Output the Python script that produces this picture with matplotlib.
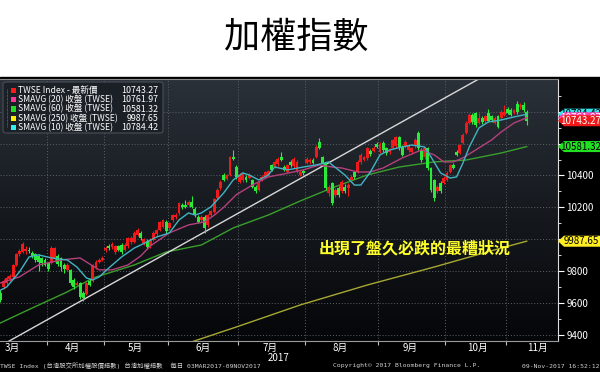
import numpy as np
import matplotlib.pyplot as plt
import matplotlib.transforms as mtransforms
from matplotlib.colors import LinearSegmentedColormap
from matplotlib.patches import Polygon, FancyBboxPatch, Rectangle

plt.rcParams['font.family'] = ['Noto Sans CJK TC', 'DejaVu Sans']

# trading day index: 0 = 03MAR2017, chart is cropped so first visible candle is day 6
first_day = 6
opens = [9663, 9700, 9726, 9750, 9764, 9839, 9905, 9920, 9925, 9935,
         9915, 9905, 9895, 9880, 9870, 9850, 9851, 9875, 9895, 9880,
         9839, 9808, 9808, 9745, 9715, 9726, 9663, 9657, 9739, 9739,
         9826, 9860, 9872, 9930, 9958, 9950, 9920, 9955, 9964, 9935,
         9955, 9980, 9980, 10027, 10040, 9977, 9990, 9955, 9996, 10030,
         10058, 10077, 10110, 10070, 10121, 10140, 10165, 10215, 10212, 10215,
         10235, 10190, 10140, 10121, 10140, 10090, 10150, 10171, 10260, 10320,
         10403, 10380, 10403, 10516, 10453, 10360, 10370, 10391, 10385, 10372,
         10330, 10309, 10372, 10391, 10400, 10466,
         10453, 10470, 10516, 10453, 10422, 10485, 10460, 10425, 10403, 10430,
         10478, 10485, 10500, 10516, 10610, 10516, 10478, 10290, 10353, 10278,
         10322, 10300, 10330, 10322, 10372, 10422, 10422, 10485, 10500, 10510,
         10555, 10555, 10600, 10547, 10604, 10572, 10545, 10572, 10585, 10641, 10578,
         10585, 10560, 10545, 10585, 10666, 10560, 10516, 10572, 10447, 10372,
         10300, 10353, 10353, 10372, 10422, 10466, 10547, 10541, 10604, 10666,
         10729, 10779, 10792, 10729, 10760, 10740, 10790, 10770, 10729, 10773,
         10760, 10780, 10818, 10811, 10792, 10850, 10830, 10842, 10798]
closes = [9619, 9740, 9757, 9770, 9839, 9908, 9925, 9970, 9940, 9925,
          9895, 9870, 9855, 9850, 9840, 9815, 9945, 9945, 9845, 9826,
          9815, 9839, 9726, 9701, 9726, 9640, 9632, 9726, 9714, 9839,
          9857, 9870, 9883, 9948, 9945, 9970, 9955, 9935, 9920, 9964,
          10008, 10010, 10040, 10058, 10008, 10000, 9950, 9996, 10040, 10058,
          10109, 10121, 10050, 10100, 10152, 10155, 10228, 10200, 10203, 10235,
          10203, 10150, 10109, 10140, 10070, 10152, 10175, 10252, 10310, 10360,
          10372, 10400, 10516, 10505, 10391, 10403, 10410, 10372, 10403, 10330,
          10300, 10353, 10391, 10422, 10425, 10435,
          10485, 10505, 10497, 10435, 10466, 10466, 10505, 10485, 10422, 10415,
          10505, 10500, 10480, 10579, 10572, 10478, 10322, 10328, 10228, 10309,
          10278, 10360, 10300, 10340, 10391, 10391, 10485, 10529, 10516, 10572,
          10535, 10575, 10580, 10600, 10560, 10541, 10560, 10623, 10641, 10572, 10529,
          10610, 10591, 10572, 10623, 10572, 10497, 10572, 10447, 10309, 10259,
          10328, 10300, 10385, 10416, 10466, 10450, 10529, 10591, 10654, 10729,
          10779, 10735, 10717, 10760, 10735, 10770, 10742, 10745, 10760, 10704,
          10798, 10795, 10792, 10779, 10811, 10795, 10842, 10811, 10743]
highs = [9680, 9750, 9770, 9780, 9845, 9915, 9940, 9985, 9955, 9950,
         9925, 9915, 9905, 9890, 9880, 9860, 9955, 9950, 9905, 9890,
         9850, 9850, 9815, 9760, 9740, 9735, 9675, 9735, 9750, 9845,
         9870, 9885, 9895, 9960, 9970, 9980, 9965, 9965, 9975, 9975,
         10015, 10020, 10050, 10070, 10050, 10010, 10000, 10005, 10050, 10065,
         10115, 10130, 10120, 10110, 10160, 10165, 10235, 10225, 10245, 10245,
         10270, 10200, 10150, 10150, 10150, 10160, 10185, 10260, 10320, 10370,
         10415, 10410, 10525, 10560, 10465, 10415, 10420, 10400, 10415, 10380,
         10340, 10365, 10400, 10430, 10435, 10475,
         10495, 10515, 10545, 10465, 10475, 10495, 10515, 10495, 10435, 10440,
         10515, 10510, 10510, 10590, 10635, 10525, 10485, 10340, 10360, 10320,
         10335, 10370, 10345, 10350, 10400, 10430, 10495, 10540, 10525, 10580,
         10565, 10585, 10610, 10610, 10615, 10580, 10570, 10630, 10650, 10650, 10590,
         10620, 10600, 10580, 10635, 10680, 10570, 10580, 10580, 10455, 10380,
         10340, 10365, 10395, 10425, 10475, 10480, 10560, 10600, 10665, 10740,
         10790, 10790, 10800, 10790, 10770, 10780, 10815, 10780, 10770, 10780,
         10810, 10840, 10830, 10825, 10820, 10870, 10855, 10860, 10810]
lows = [9605, 9690, 9715, 9740, 9755, 9830, 9895, 9912, 9910, 9915,
        9885, 9860, 9800, 9835, 9830, 9800, 9845, 9860, 9835, 9800,
        9790, 9800, 9715, 9690, 9705, 9625, 9615, 9650, 9705, 9730,
        9815, 9850, 9862, 9920, 9935, 9940, 9910, 9925, 9910, 9925,
        9945, 9970, 9975, 10020, 9995, 9965, 9940, 9945, 9990, 10020,
        10050, 10070, 10040, 10060, 10110, 10130, 10155, 10190, 10195, 10205,
        10195, 10140, 10100, 10110, 10040, 10080, 10140, 10165, 10250, 10310,
        10365, 10370, 10395, 10495, 10380, 10350, 10360, 10360, 10375, 10320,
        10290, 10300, 10365, 10385, 10395, 10425,
        10445, 10460, 10490, 10425, 10415, 10455, 10450, 10415, 10395, 10405,
        10470, 10475, 10470, 10510, 10565, 10470, 10310, 10270, 10215, 10265,
        10265, 10290, 10290, 10270, 10360, 10380, 10415, 10475, 10490, 10500,
        10525, 10545, 10570, 10540, 10550, 10530, 10535, 10565, 10575, 10560, 10520,
        10575, 10550, 10535, 10575, 10560, 10485, 10505, 10435, 10295, 10240,
        10290, 10290, 10345, 10365, 10415, 10440, 10520, 10535, 10595, 10660,
        10720, 10725, 10705, 10720, 10725, 10730, 10735, 10735, 10720, 10695,
        10750, 10770, 10785, 10770, 10785, 10785, 10820, 10800, 10715]

ma10_x = [6, 8, 12, 15, 18, 22, 27, 30, 33, 35, 37, 40, 44, 48, 50, 55, 59, 62, 65, 67,
          69, 72, 76, 79, 82, 84, 87, 90, 92, 96, 101, 105, 109, 110, 114, 117, 119, 122, 125, 128,
          132, 135, 139, 141, 144, 147, 149, 151, 153, 156, 159, 163, 167, 171]
ma10_y = [9680, 9701, 9795, 9889, 9902, 9883, 9870, 9826, 9757, 9745, 9764, 9820, 9889, 9945, 9964,
          10014, 10040, 10121, 10165, 10152, 10165, 10203, 10290, 10372, 10416, 10403, 10372, 10403,
          10453, 10435, 10453, 10466, 10485, 10466, 10403, 10340, 10340, 10422, 10529, 10560,
          10579, 10591, 10579, 10516, 10416, 10384, 10391, 10478, 10579, 10698, 10736, 10748,
          10767, 10784]
ma20_x = [6, 12, 18, 25, 31, 34, 37, 41, 46, 50, 53, 59, 65, 70, 73, 76, 80, 85, 90, 95,
          101, 106, 110, 113, 118, 122, 126, 132, 138, 142, 145, 148, 151, 155, 160, 163, 167, 171]
ma20_y = [9726, 9764, 9839, 9870, 9883, 9845, 9808, 9808, 9839, 9895, 9958, 10040, 10090, 10109,
          10150, 10200, 10280, 10340, 10391, 10410, 10435, 10466, 10453, 10447, 10422, 10422,
          10447, 10510, 10560, 10529, 10485, 10485, 10510, 10560, 10623, 10673, 10729, 10762]
ma60_x = [6, 16, 27, 35, 48, 58, 69, 79, 90, 100, 110, 121, 131, 142, 152, 163, 171]
ma60_y = [9475, 9569, 9670, 9757, 9839, 9920, 9964, 10071, 10152, 10240, 10322, 10403,
          10453, 10485, 10497, 10541, 10581]
ma250_x = [55, 65, 80, 100, 121, 142, 163, 171]
ma250_y = [9290, 9350, 9450, 9588, 9713, 9826, 9945, 9988]
trend_x = [6, 160]
trend_y = [9331, 11050]

month_names = ['3月', '4月', '5月', '6月', '7月', '8月', '9月', '10月', '11月']
month_label_x = [9.7, 28.5, 48.3, 69.6, 90.6, 112.5, 134.5, 155.5, 174.3]
month_starts = [20.5, 38.5, 58.5, 80.5, 101.5, 124.5, 145.5, 164.5]
y_major = [9400, 9600, 9800, 10000, 10200, 10400, 10600, 10800]
y_labels = ['9400', '9600', '9800', '', '10200', '10400', '', '']
y_minor = [9500, 9700, 9900, 10100, 10300, 10500, 10700, 10900]

legend_labels = ['TWSE Index - 最新價', 'SMAVG (20) 收盤 (TWSE)', 'SMAVG (60) 收盤 (TWSE)',
                 'SMAVG (250) 收盤 (TWSE)', 'SMAVG (10) 收盤 (TWSE)']
legend_values = ['10743.27', '10761.97', '10581.32', '9987.65', '10784.42']
legend_colors = ['#ff1a1a', '#ff3399', '#22dd22', '#ffee00', '#33eeee']

tag_values = [10784.42, 10761.97, 10743.27, 10581.32, 9987.65]
tag_colors = ['#33e6f0', '#ff40b0', '#f01818', '#22e022', '#ffee22']
tag_text_colors = ['black', 'white', 'white', 'black', 'black']

W, H = 600, 372
fig = plt.figure(figsize=(6, 3.72), dpi=100, facecolor='white')


def fx(px):
    return px / W


def fy(py):
    return 1 - py / H


fig.patches.append(Rectangle((0, 0), 1, fy(77), transform=fig.transFigure,
                             color='black', zorder=-5))

ax = fig.add_axes([0, fy(341), fx(558), fy(79) - fy(341)])
ax.set_facecolor('none')
xlim = (5.9, 180.8)
ylim = (9362, 11005)

bg = LinearSegmentedColormap.from_list('bg', ['#2b3139', '#161a1f', '#050608'])
ax.imshow(np.linspace(0, 1, 256).reshape(-1, 1), cmap=bg, aspect='auto',
          extent=[xlim[0], xlim[1], ylim[0], ylim[1]], origin='upper', zorder=0)

for v in y_major:
    ax.axhline(v, color='#5c6168', lw=0.7, ls=(0, (1, 2)), zorder=1)
for m in month_starts:
    ax.axvline(m, color='#5c6168', lw=0.7, ls=(0, (1, 2)), zorder=1)

# moving averages and trend line
ax.plot(ma250_x, ma250_y, color='#a8a832', lw=1.0, zorder=2)
ax.plot(ma60_x, ma60_y, color='#3a9e2c', lw=1.0, zorder=2)
ax.plot(trend_x, trend_y, color='#d8d8d8', lw=1.0, zorder=2)

# candles: red = up, green = down
opens_a = np.array(opens)
closes_a = np.array(closes)
idx = np.arange(first_day, first_day + len(closes))
cols = np.where(closes_a >= opens_a, '#f01a1a', '#2bea3a')
ax.vlines(idx, lows, highs, colors=cols, lw=0.8, zorder=3)
ax.bar(idx, np.abs(closes_a - opens_a), bottom=np.minimum(opens_a, closes_a),
       width=0.9, color=cols, zorder=4)

ax.plot(ma20_x, ma20_y, color='#b4407c', lw=1.0, zorder=5)
ax.plot(ma10_x, ma10_y, color='#41b4c4', lw=1.0, zorder=5)

ax.set_xlim(*xlim)
ax.set_ylim(*ylim)

ax.spines['left'].set_visible(False)
ax.spines['top'].set_color('#8a8a8a')
ax.spines['top'].set_linewidth(0.8)
ax.spines['right'].set_color('#dddddd')
ax.spines['bottom'].set_color('#9a9a9a')

ax.yaxis.tick_right()
ax.set_yticks(y_major)
ax.set_yticklabels(y_labels)
ax.set_yticks(y_minor, minor=True)
ax.tick_params(axis='y', which='major', colors='white', labelsize=7, length=4, pad=2)
ax.tick_params(axis='y', which='minor', colors='white', length=2.5)
ax.set_xticks(month_starts)
ax.set_xticklabels([])
ax.tick_params(axis='x', colors='#bbbbbb', length=3)

xtrans = mtransforms.blended_transform_factory(ax.transData, ax.transAxes)
for name, lx in zip(month_names, month_label_x):
    ax.text(lx, -0.028, name, transform=xtrans, color='white', fontsize=7,
            ha='center', va='center', clip_on=False)
ax.text(93.2, -0.066, '2017', transform=xtrans, color='white', fontsize=7,
        ha='center', va='center', clip_on=False)

# last value tags on the right axis
ttrans = mtransforms.blended_transform_factory(fig.transFigure, ax.transData)
hh = 5.5 * (ylim[1] - ylim[0]) / 262
for k, (v, c, tc) in enumerate(zip(tag_values, tag_colors, tag_text_colors)):
    pts = [(fx(558), v), (fx(564), v + hh), (fx(600), v + hh), (fx(600), v - hh), (fx(564), v - hh)]
    fig.add_artist(Polygon(pts, closed=True, transform=ttrans, facecolor=c,
                           edgecolor='none', zorder=10 + 2 * k))
    fig.text(fx(581), v, '%.2f' % v, transform=ttrans, color=tc, fontsize=7,
             ha='center', va='center', zorder=11 + 2 * k)

# legend box
fig.add_artist(FancyBboxPatch((fx(3), fy(133)), fx(160), (133 - 82) / H,
                              boxstyle='round,pad=0,rounding_size=0.006',
                              transform=fig.transFigure, facecolor='#1b2027',
                              edgecolor='#4a4f56', lw=0.8, zorder=20))
fig.add_artist(plt.Line2D([fx(7), fx(7)], [fy(89), fy(127)], transform=fig.transFigure,
                          color='#888888', lw=0.5, ls=(0, (1, 1)), zorder=21))
row_y = [90.7, 99.7, 109, 118.2, 127.3]
for ry, lab, val, c in zip(row_y, legend_labels, legend_values, legend_colors):
    fig.add_artist(Rectangle((fx(11), fy(ry + 2.6)), fx(5.2), 5.2 / H,
                             transform=fig.transFigure, facecolor=c, zorder=21))
    fig.text(fx(18), fy(ry), lab, color='white', fontsize=6.2, ha='left', va='center', zorder=22)
    fig.text(fx(158), fy(ry), val, color='white', fontsize=6.4, ha='right', va='center', zorder=22)

fig.text(fx(415), fy(248), '出現了盤久必跌的最糟狀況', color='#ffff2a', fontsize=11.5,
         fontweight='bold', ha='center', va='center', zorder=25)

fig.text(fx(296), fy(38), '加權指數', color='black', fontsize=26, ha='center', va='center')

mono = ['DejaVu Sans Mono', 'Noto Sans CJK TC']
fig.text(fx(0), fy(366), 'TWSE Index (台灣股交所加權股價指數) 台灣加權指數  每日 03MAR2017-09NOV2017',
         color='#d0d0d0', fontsize=4.6, family=mono, ha='left', va='center')
fig.text(fx(333), fy(366), 'Copyright© 2017 Bloomberg Finance L.P.',
         color='#d0d0d0', fontsize=4.6, family=mono, ha='left', va='center')
fig.text(fx(600), fy(366), '09-Nov-2017 16:52:12',
         color='#d0d0d0', fontsize=4.6, family=mono, ha='right', va='center')

fig.savefig('out.png', dpi=100, facecolor=fig.get_facecolor())
